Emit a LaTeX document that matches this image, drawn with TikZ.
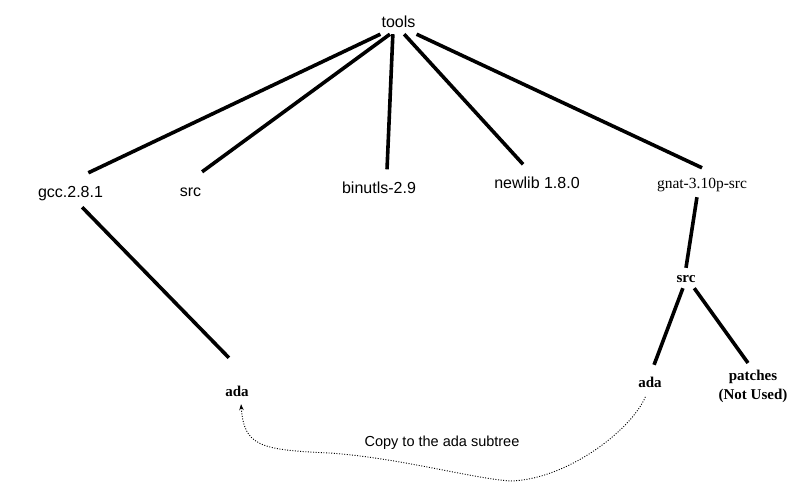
\documentclass[tikz,border=0pt]{standalone}
\usepackage{fontspec}
\setmainfont{Liberation Serif}
\setsansfont{Liberation Sans}
\usetikzlibrary{arrows.meta}

\begin{document}
\begin{tikzpicture}[x=1pt,y=-1pt,
		topdir/.style={font=\sffamily\fontsize{16}{19}\selectfont,anchor=base,inner sep=1pt,text height=23pt,text depth=9pt},
		subdir/.style={font=\bfseries\fontsize{15}{19}\selectfont,anchor=base,inner sep=1pt,text height=13pt,text depth=5pt},
		branchline/.style={line width=3.6pt},
		copyline/.style={dash pattern=on 1pt off 1.6pt,line width=0.9pt,-{Stealth[length=6pt,width=4.5pt]}}]
		\useasboundingbox (0,0) rectangle (805,485);
		% top level
		\node[topdir,text height=12pt,text depth=6pt] (tools) at (398.5,27) {tools};
		\node[topdir] (gcc) at (70.5,197) {gcc.2.8.1};
		\node[topdir] (src) at (190.5,196) {src};
		\node[topdir] (binutls) at (379,193.5) {binutls-2.9};
		\node[topdir] (newlib) at (537,188.5) {newlib 1.8.0};
		\node[subdir,font=\fontsize{15.5}{19}\selectfont,text height=19pt,text depth=8pt] (gnat) at (702,188) {gnat-3.10p-src};
		% subtrees
		\node[subdir,text height=37pt] (gccada) at (237,396) {ada};
		\node[subdir] (gsrc) at (686,282) {src};
		\node[subdir,text height=21pt] (gnatada) at (650,387) {ada};
		\node[font=\bfseries\fontsize{15}{19}\selectfont,align=center,anchor=north,inner xsep=1pt,inner ysep=7pt] (patches) at (753,363) {patches\\(Not Used)};
		\node[font=\sffamily\fontsize{14.5}{17}\selectfont,anchor=base] (copytext) at (442,446) {Copy to the ada subtree};
		% branches
		\draw[branchline] (tools.south west) -- (gcc.44);
		\draw[branchline] (tools.-130) -- (src.56);
		\draw[branchline] (tools.-119) -- (binutls.65);
		\draw[branchline] (tools.-61) -- (newlib.129);
		\draw[branchline] (tools.south east) -- (gnat.north);
		\draw[branchline] (gcc.-56) -- (gccada.110);
		\draw[branchline] (gnat.-109) -- (gsrc.north);
		\draw[branchline] (gsrc.-107) -- (gnatada.74);
		\draw[branchline] (gsrc.-51) -- (patches.102);
		% copy arrow
		\draw[copyline,shorten <=4pt,shorten >=2pt] (gnatada.-102) .. controls (630,432) and (565,480) .. (510,481)
			.. controls (470,478) and (400,458) .. (330,453)
			.. controls (260,450) and (244,446) .. (gccada.-80);
\end{tikzpicture}
\end{document}
